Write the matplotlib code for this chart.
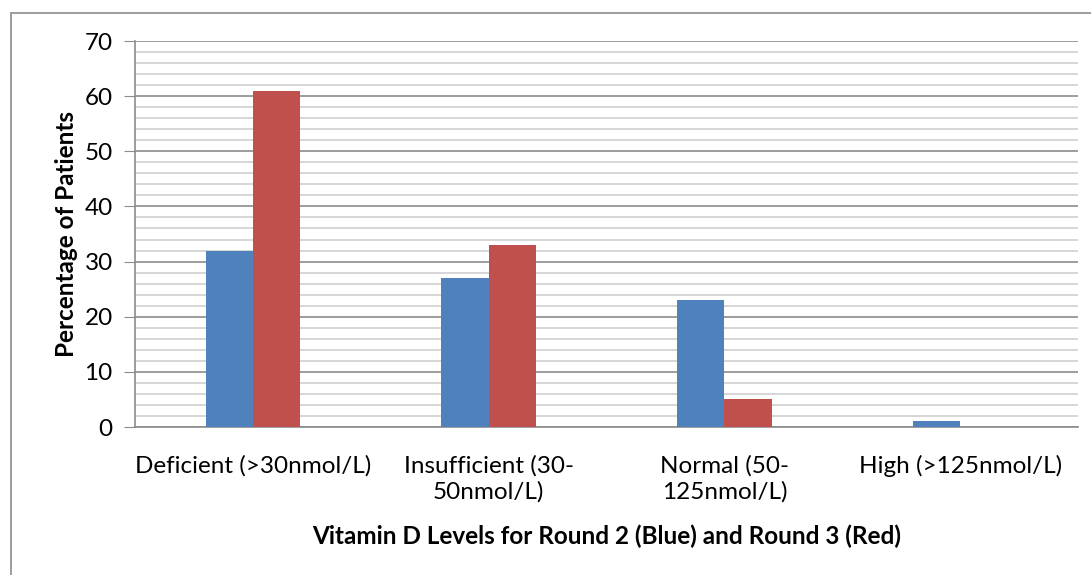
import matplotlib
matplotlib.use('Agg')

import numpy as np
import matplotlib.pyplot as plt
from matplotlib.patches import Rectangle

categories = ['Deficient (>30nmol/L)', 'Insufficient (30-\n50nmol/L)',
              'Normal (50-\n125nmol/L)', 'High (>125nmol/L)']
round2 = [32, 27, 23, 1]
round3 = [61, 33, 5, 0]

plt.rcParams['font.family'] = ['Lato', 'DejaVu Sans']

W, H = 1091, 575
fig = plt.figure(figsize=(W / 100, H / 100), dpi=100)
ax = fig.add_axes([135 / W, 1 - 427 / H, (1078 - 135) / W, (427 - 41) / H])

x = np.arange(len(categories))
bw = 0.2
ax.bar(x - bw / 2, round2, bw, color='#4F81BD', zorder=3)
ax.bar(x + bw / 2, round3, bw, color='#C0504D', zorder=3)

ax.set_xlim(-0.5, len(categories) - 0.5)
ax.set_ylim(0, 70)
ax.set_yticks(range(0, 71, 10))
ax.set_yticks(range(0, 71, 2), minor=True)
ax.grid(axis='y', which='major', color='#8c8c8c', linewidth=1.2, zorder=0)
ax.grid(axis='y', which='minor', color='#cfcfcf', linewidth=1.2, zorder=0)

ax.set_xticks(x)
ax.set_xticklabels(categories, fontsize=17.5, linespacing=1.25)
ax.tick_params(axis='x', length=0, pad=20)
ax.tick_params(axis='y', which='major', length=8, color='#8c8c8c', labelsize=17.5, pad=8)
ax.tick_params(axis='y', which='minor', length=0)

for s in ['top', 'right']:
    ax.spines[s].set_visible(False)
for s in ['left', 'bottom']:
    ax.spines[s].set_color('#8c8c8c')
    ax.spines[s].set_linewidth(1.2)

ax.set_ylabel('Percentage of Patients', fontsize=17.5, fontweight='bold', labelpad=5)
ax.set_xlabel('Vitamin D Levels for Round 2 (Blue) and Round 3 (Red)',
              fontsize=17.5, fontweight='bold', labelpad=16)

fig.patches.append(Rectangle((11 / W, -0.1), 1.2, 1 - 13 / H + 0.1,
                             transform=fig.transFigure, fill=False,
                             edgecolor='#8c8c8c', linewidth=1.2))

fig.savefig('out.png', dpi=100)
